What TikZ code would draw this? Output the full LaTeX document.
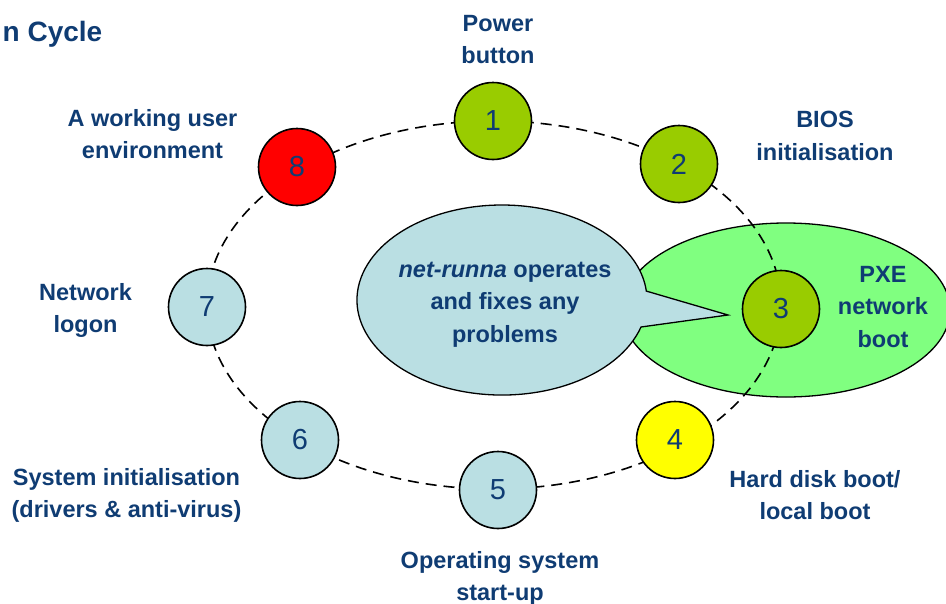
\documentclass[tikz,border=0pt]{standalone}
\usepackage{fontspec}
\setmainfont{Liberation Sans}
\usetikzlibrary{positioning}
\definecolor{textblue}{HTML}{0F3C73}
\definecolor{stagegreen}{HTML}{99CC00}
\definecolor{stagered}{HTML}{FF0000}
\definecolor{stageyellow}{HTML}{FFFF00}
\definecolor{stageblue}{HTML}{BADFE3}
\definecolor{pxegreen}{HTML}{80FF80}
\newcommand{\LabelFont}{\fontsize{23.5}{32.5}\selectfont\bfseries}
\newcommand{\DigitFont}{\fontsize{29}{30}\selectfont}

\begin{document}
\begin{tikzpicture}[x=1pt,y=-1pt,
  stage/.style={circle, draw=black, line width=1.6pt, minimum size=77pt, inner sep=0pt, font=\DigitFont, text=textblue},
  caption/.style={font=\LabelFont, text=textblue, align=center, inner sep=0pt}]
\useasboundingbox (0,0) rectangle (946,603);

% title, cut off on the left
\node[font=\fontsize{28}{30}\selectfont\bfseries, text=textblue, anchor=base east, inner sep=0pt] (title) at (102.5,41) {n Cycle};

% PXE area
\draw[fill=pxegreen, line width=1.3pt] (786,310) ellipse [x radius=164, y radius=87];

% speech bubble
\draw[fill=stageblue, line width=1.3pt] (641,327) arc [start angle=16.5, end angle=354.6, x radius=145, y radius=95] -- (728,315) -- cycle;
\node[caption] (runna) at (505,304.5) {\textit{net-runna} operates\\and fixes any\\problems};

% the cycle
\draw[line width=1.6pt, dash pattern=on 11pt off 7pt] (494,305) ellipse [x radius=287, y radius=184];

% stages
\foreach \n/\x/\y/\c in {1/493/121/stagegreen, 2/679/164/stagegreen, 3/781/309/stagegreen, 4/675/440/stageyellow,
  5/498/490/stageblue, 6/300/440/stageblue, 7/207/307/stageblue, 8/297/167/stagered}
  \node[stage, fill=\c] (s\n) at (\x,\y) {\n};

% captions
\node[caption] (power) at (498,39.5) {Power\\button};
\node[caption] (bios) at (825,136) {BIOS\\initialisation};
\node[caption] (pxe) at (883,307) {PXE\\network\\boot};
\node[caption] (disk) at (815,495) {Hard disk boot/\\local boot};
\node[caption] (os) at (500,578.5) {Operating system\\start-up};
\node[caption] (sysinit) at (126.5,495.5) {System initialisation\\(drivers \& anti-virus)};
\node[caption] (logon) at (85.5,310.5) {Network\\logon};
\node[caption] (desktop) at (152.5,134) {A working user\\environment};
\end{tikzpicture}
\end{document}
